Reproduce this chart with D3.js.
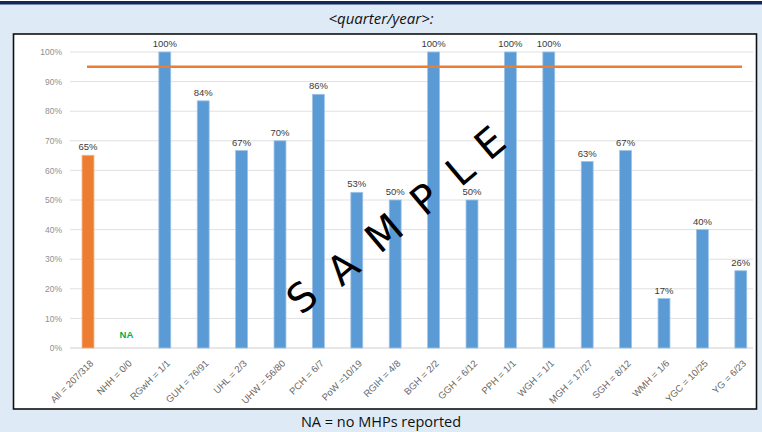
<!DOCTYPE html>
<html><head><meta charset="utf-8">
<script src="https://cdn.jsdelivr.net/npm/d3@7"></script>
<style>
html,body{margin:0;padding:0;background:#deeaf6;}
svg{display:block;}
</style></head>
<body>
<svg id="c" width="762" height="432"></svg>
<script>
const categories = ["All = 207/318","NHH = 0/0","RGwH = 1/1","GUH = 76/91","UHL = 2/3","UHW = 56/80","PCH = 6/7","PoW =10/19","RGIH = 4/8","BGH = 2/2","GGH = 6/12","PPH = 1/1","WGH = 1/1","MGH = 17/27","SGH = 8/12","WMH = 1/6","YGC = 10/25","YG = 6/23"];
const values = [65.1, null, 100, 83.5, 66.7, 70, 85.7, 52.6, 50, 100, 50, 100, 100, 63.0, 66.7, 16.7, 40, 26.1];
const valueLabels = ["65%","NA","100%","84%","67%","70%","86%","53%","50%","100%","50%","100%","100%","63%","67%","17%","40%","26%"];
const target = 95;
const yTicks = [0,10,20,30,40,50,60,70,80,90,100];

const svg = d3.select("#c");
const font = "'Liberation Sans Narrow','Liberation Sans',Arial,sans-serif";

// top band
svg.append("rect").attr("x",0).attr("y",0).attr("width",762).attr("height",1).attr("fill","#ffffff");
svg.append("rect").attr("x",0).attr("y",1).attr("width",762).attr("height",3.5).attr("fill","#12295a");

svg.append("text").attr("x",381).attr("y",24).attr("text-anchor","middle")
  .attr("font-family","'Open Sans','Noto Sans',sans-serif").attr("font-style","italic")
  .attr("font-size",15).attr("fill","#111").text("<quarter/year>:");

// chart box
svg.append("rect").attr("x",13.5).attr("y",34).attr("width",743).attr("height",375)
  .attr("fill","#ffffff").attr("stroke","#111").attr("stroke-width",1.6);

const x = d3.scaleBand().domain(categories).range([68.8, 760]).paddingInner(0.69).paddingOuter(0.345);
const y = d3.scaleLinear().domain([0,100]).range([348,52]);

const g = svg.append("g");
// gridlines
g.selectAll("line.grid").data(yTicks).join("line").attr("class","grid")
  .attr("x1",70).attr("x2",753).attr("y1",d=>y(d)).attr("y2",d=>y(d))
  .attr("stroke",d=>d===0?"#cfcfcf":"#e0e0e0").attr("stroke-width",1);

// y axis labels
const yAxis = d3.axisLeft(y).tickValues(yTicks).tickFormat(d=>d+"%").tickSize(0).tickPadding(0);
const ya = g.append("g").attr("transform","translate(62,0)").call(yAxis);
ya.select(".domain").remove();
ya.selectAll("text").attr("font-family",font).attr("font-size",8.5).style("fill","#8f8f8f");

// bars
const data = categories.map((c,i)=>({c, v:values[i], l:valueLabels[i], i}));
g.selectAll("rect.bar").data(data.filter(d=>d.v!==null)).join("rect").attr("class","bar")
  .attr("x",d=>x(d.c)).attr("width",x.bandwidth())
  .attr("y",d=>y(d.v)).attr("height",d=>y(0)-y(d.v))
  .attr("fill",d=>d.i===0?"#ed7d31":"#5b9bd5")
  .attr("stroke",d=>d.i===0?"#f4b183":"#9dc3e6").attr("stroke-width",0.8);

// target line (drawn over bars)
g.append("line").attr("x1",87).attr("x2",742).attr("y1",y(target)).attr("y2",y(target))
  .attr("stroke","#ed7d31").attr("stroke-width",2.5);

// value labels
g.selectAll("text.val").data(data).join("text").attr("class","val")
  .attr("x",d=>x(d.c)+x.bandwidth()/2)
  .attr("y",d=>d.v===null? y(0)-10 : y(d.v)-5)
  .attr("text-anchor","middle").attr("font-family",font)
  .attr("font-size",9.5)
  .attr("font-weight",d=>d.v===null?"bold":"normal")
  .style("fill",d=>d.v===null?"#00b050":"#3a3a3a")
  .text(d=>d.l);

// x labels
const xAxis = d3.axisBottom(x).tickSize(0).tickPadding(0);
const xa = g.append("g").attr("transform","translate(0,348)").call(xAxis);
xa.select(".domain").remove();
xa.selectAll("text")
  .attr("font-family",font).attr("font-size",9.5).style("fill","#666666")
  .attr("text-anchor","end").attr("dy",0)
  .attr("transform","translate(6,16) rotate(-45)")
  .attr("y",0).attr("x",0);

// watermark
const letters = [["S",302,297],["A",343,268],["M",384,233],["P",425,199],["L",460,170],["E",490,143]];
svg.append("g").selectAll("text").data(letters).join("text")
  .attr("transform",d=>`translate(${d[1]},${d[2]}) rotate(-40)`)
  .attr("text-anchor","middle").attr("dominant-baseline","central")
  .attr("font-family","'DejaVu Sans',sans-serif").attr("font-size",40)
  .attr("fill","#000").text(d=>d[0]);

// footnote
svg.append("text").attr("x",381).attr("y",427).attr("text-anchor","middle")
  .attr("font-family","'Open Sans','Noto Sans',sans-serif").attr("font-size",14.5)
  .attr("fill","#111").text("NA = no MHPs reported");
</script>
</body></html>
